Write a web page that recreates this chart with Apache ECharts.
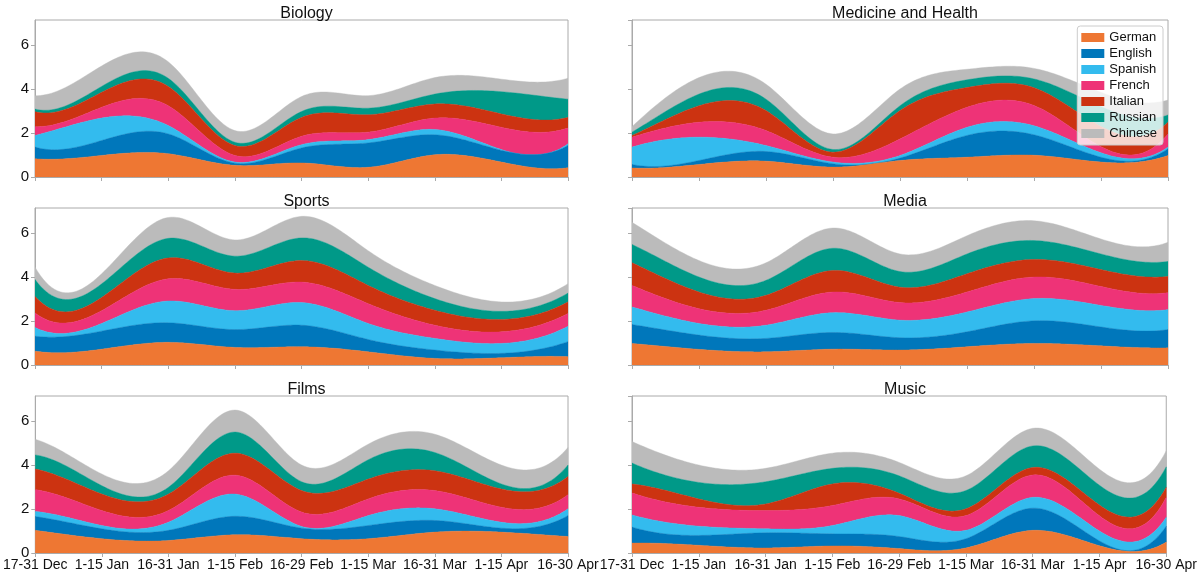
<!DOCTYPE html>
<html>
<head>
<meta charset="utf-8">
<script src="https://cdn.jsdelivr.net/npm/echarts@6/dist/echarts.min.js"></script>
<style>
html,body{margin:0;padding:0;background:#fff;}
#chart{width:1200px;height:572px;}
</style>
</head>
<body>
<div id="chart"></div>
<script>
const categories = ['17-31 Dec','1-15 Jan','16-31 Jan','1-15 Feb','16-29 Feb','1-15 Mar','16-31 Mar','1-15 Apr','16-30 Apr'];
const languages = ['German','English','Spanish','French','Italian','Russian','Chinese'];
const colors = ['#EE7733','#0077BB','#33BBEE','#EE3377','#CC3311','#009988','#BBBBBB'];
const panelTitles = ['Biology','Medicine and Health','Sports','Media','Films','Music'];
const yTicks = [0, 2, 4, 6];

// rows in language order: German, English, Spanish, French, Italian, Russian, Chinese
const biology = [
  [0.83, 0.98, 1.06, 0.53, 0.64, 0.44, 1.01, 0.68, 0.42],
  [0.53, 0.68, 0.90, 0.10, 0.68, 1.11, 0.91, 0.53, 1.01],
  [0.53, 1.02, 0.38, 0.05, 0.15, 0.15, 0.24, 0.04, 0.08],
  [0.40, 0.49, 0.90, 0.30, 0.38, 0.34, 0.52, 1.01, 0.72],
  [0.68, 0.68, 0.88, 0.45, 0.86, 0.79, 0.64, 0.61, 0.48],
  [0.12, 0.27, 0.37, 0.15, 0.27, 0.30, 0.45, 1.01, 0.83],
  [0.61, 0.93, 0.75, 0.53, 0.68, 0.57, 0.75, 0.57, 0.95]
];
const medicine = [
  [0.41, 0.57, 0.72, 0.45, 0.75, 0.90, 0.99, 0.68, 0.98],
  [0.16, 0.18, 0.44, 0.15, 0.11, 0.99, 0.93, 0.22, 0.30],
  [0.79, 1.06, 0.27, 0.08, 0.12, 0.37, 0.41, 0.20, 0.08],
  [0.45, 0.68, 0.68, 0.22, 0.75, 0.91, 0.92, 0.28, 0.60],
  [0.08, 0.75, 0.91, 0.23, 1.29, 0.90, 0.81, 0.92, 0.53],
  [0.15, 0.53, 0.52, 0.12, 0.22, 0.35, 0.40, 0.90, 0.33],
  [0.25, 0.75, 0.68, 0.71, 0.76, 0.48, 0.48, 0.65, 0.68]
];
const sports = [
  [0.63, 0.72, 1.03, 0.80, 0.83, 0.60, 0.30, 0.33, 0.38],
  [0.68, 0.82, 0.89, 0.81, 0.98, 0.56, 0.38, 0.20, 0.68],
  [0.40, 0.35, 0.99, 0.86, 1.03, 0.73, 0.53, 0.45, 0.70],
  [0.66, 0.58, 1.01, 0.97, 0.93, 0.90, 0.60, 0.53, 0.58],
  [0.75, 0.60, 0.95, 0.74, 0.98, 0.83, 0.68, 0.56, 0.53],
  [0.77, 0.62, 0.89, 0.77, 1.03, 0.83, 0.53, 0.37, 0.40],
  [0.56, 0.46, 0.95, 0.74, 0.98, 0.75, 0.60, 0.43, 0.43]
];
const media = [
  [0.98, 0.71, 0.60, 0.72, 0.68, 0.83, 0.98, 0.87, 0.78],
  [0.86, 0.65, 0.61, 0.76, 0.56, 0.68, 1.03, 0.86, 0.83],
  [0.80, 0.53, 0.60, 0.90, 0.80, 0.90, 1.01, 0.98, 0.91],
  [0.98, 0.67, 0.68, 0.94, 0.80, 0.91, 0.98, 0.86, 0.77],
  [1.03, 0.76, 0.68, 0.98, 0.70, 0.83, 0.80, 0.77, 0.74],
  [0.83, 0.68, 0.68, 1.01, 0.71, 0.90, 0.86, 0.71, 0.68],
  [1.01, 0.75, 0.80, 0.92, 0.80, 0.83, 0.90, 0.68, 0.87]
];
const films = [
  [1.03, 0.65, 0.57, 0.83, 0.65, 0.65, 0.95, 0.95, 0.75],
  [0.63, 0.45, 0.46, 0.84, 0.48, 0.60, 0.53, 0.18, 0.95],
  [0.23, 0.15, 0.37, 1.01, 0.08, 0.45, 0.53, 0.27, 0.31],
  [0.99, 0.68, 0.53, 0.86, 0.65, 0.76, 0.83, 0.68, 0.64],
  [0.94, 0.75, 0.75, 1.00, 0.98, 0.90, 0.90, 0.83, 0.83],
  [0.64, 0.38, 0.31, 0.96, 0.40, 0.88, 0.83, 0.23, 0.52],
  [0.71, 0.53, 0.75, 1.00, 0.76, 0.71, 0.83, 0.86, 0.80]
];
const music = [
  [0.45, 0.35, 0.23, 0.32, 0.20, 0.23, 1.03, 0.33, 0.50],
  [0.73, 0.45, 0.69, 0.55, 0.55, 0.42, 1.01, 0.22, 0.72],
  [0.55, 0.42, 0.18, 0.38, 0.95, 0.38, 0.49, 0.45, 0.41],
  [1.00, 0.86, 0.83, 0.91, 0.76, 0.67, 1.02, 0.69, 0.90],
  [0.41, 0.38, 0.30, 0.98, 0.26, 0.31, 0.34, 0.49, 0.46],
  [0.95, 0.75, 1.01, 0.71, 0.79, 0.83, 0.98, 0.90, 0.93],
  [0.98, 0.79, 0.61, 0.69, 0.61, 0.67, 0.80, 0.73, 0.73]
];
const panels = [biology, medicine, sports, media, films, music];

const FONT = '"Liberation Sans", Arial, Helvetica, sans-serif';
const lefts = [35, 632];
const widths = [533, 536];
const tops = [20, 208, 396];
const H = 157;
const YMAX = 7.14;
const SAMPLES = 24;

// cubic spline (not-a-knot), uniform spacing, returns second derivatives
function splineM(y) {
  const n = y.length;
  const A = [], b = [];
  for (let i = 0; i < n; i++) { A.push(new Array(n).fill(0)); b.push(0); }
  A[0][0] = 1; A[0][1] = -2; A[0][2] = 1;
  for (let i = 1; i < n - 1; i++) {
    A[i][i - 1] = 1; A[i][i] = 4; A[i][i + 1] = 1;
    b[i] = 6 * (y[i + 1] - 2 * y[i] + y[i - 1]);
  }
  A[n - 1][n - 3] = 1; A[n - 1][n - 2] = -2; A[n - 1][n - 1] = 1;
  for (let c = 0; c < n; c++) {
    let piv = c;
    for (let r = c + 1; r < n; r++) if (Math.abs(A[r][c]) > Math.abs(A[piv][c])) piv = r;
    [A[c], A[piv]] = [A[piv], A[c]]; [b[c], b[piv]] = [b[piv], b[c]];
    for (let r = c + 1; r < n; r++) {
      const f = A[r][c] / A[c][c];
      if (!f) continue;
      for (let k = c; k < n; k++) A[r][k] -= f * A[c][k];
      b[r] -= f * b[c];
    }
  }
  const M = new Array(n).fill(0);
  for (let r = n - 1; r >= 0; r--) {
    let s = b[r];
    for (let k = r + 1; k < n; k++) s -= A[r][k] * M[k];
    M[r] = s / A[r][r];
  }
  return M;
}
function splineAt(y, M, i, u) {
  const v = 1 - u;
  return v * y[i] + u * y[i + 1] + ((v * v * v - v) * M[i] + (u * u * u - u) * M[i + 1]) / 6;
}

function cumulative(panel, upto) {
  return categories.map((c, j) => {
    let s = 0;
    for (let k = 0; k <= upto; k++) s += panel[k][j];
    return s;
  });
}

const grids = [], xAxes = [], yAxes = [], titles = [], series = [];
panels.forEach((panel, p) => {
  const col = p % 2, row = Math.floor(p / 2);
  grids.push({left: lefts[col], top: tops[row], width: widths[col], height: H,
    show: true, borderColor: '#aaaaaa', borderWidth: 1, backgroundColor: 'transparent'});
  xAxes.push({type: 'category', gridIndex: p, data: categories, boundaryGap: false,
    axisLine: {show: true, lineStyle: {color: '#aaaaaa'}},
    axisTick: {show: true, length: 4, lineStyle: {color: '#aaaaaa'}},
    axisLabel: {show: row === 2, interval: 0, color: '#111', fontSize: 14, fontFamily: FONT, margin: 5},
    splitLine: {show: false}});
  yAxes.push({type: 'value', gridIndex: p, min: 0, max: YMAX, interval: 2,
    axisLine: {show: true, lineStyle: {color: '#aaaaaa'}},
    axisTick: {show: true, length: 4, lineStyle: {color: '#aaaaaa'}},
    axisLabel: {show: col === 0, color: '#111', fontSize: 15, fontFamily: FONT, margin: 6,
      showMaxLabel: false, formatter: v => (yTicks.indexOf(v) >= 0 ? String(v) : '')},
    splitLine: {show: false}});
  titles.push({text: panelTitles[p], left: lefts[col] + widths[col] / 2, top: tops[row] - 19,
    textAlign: 'center',
    textStyle: {fontSize: 16, fontWeight: 'normal', color: '#111', fontFamily: FONT}});

  // draw layers top-first (Chinese at back), each filled from its lower stack edge to its upper edge
  for (let i = languages.length - 1; i >= 0; i--) {
    const topVals = cumulative(panel, i);
    const botVals = i > 0 ? cumulative(panel, i - 1) : categories.map(() => 0);
    const Mt = splineM(topVals), Mb = splineM(botVals);
    series.push({
      name: languages[i], type: 'custom', xAxisIndex: p, yAxisIndex: p,
      itemStyle: {color: colors[i]}, clip: true, silent: true,
      data: [[0, topVals[0]]],
      renderItem: (params, api) => {
        const xs = categories.map((c, j) => api.coord([j, 0])[0]);
        const yPix = v => api.coord([0, v])[1];
        const upper = [], lower = [];
        for (let j = 0; j < categories.length - 1; j++) {
          for (let s = 0; s < SAMPLES; s++) {
            const u = s / SAMPLES;
            const x = xs[j] + (xs[j + 1] - xs[j]) * u;
            upper.push([x, yPix(splineAt(topVals, Mt, j, u))]);
            lower.push([x, yPix(splineAt(botVals, Mb, j, u))]);
          }
        }
        const last = categories.length - 1;
        upper.push([xs[last], yPix(topVals[last])]);
        lower.push([xs[last], yPix(botVals[last])]);
        const pts = upper.concat(lower.reverse());
        return {type: 'polygon', shape: {points: pts},
          style: {fill: colors[i], stroke: colors[i], lineWidth: 0.4}};
      }
    });
  }
});

const chart = echarts.init(document.getElementById('chart'), null, {renderer: 'canvas'});
chart.setOption({
  animation: false,
  color: colors,
  title: titles,
  grid: grids,
  xAxis: xAxes,
  yAxis: yAxes,
  legend: {data: languages, orient: 'vertical', right: 37, top: 26,
    itemWidth: 23, itemHeight: 9, itemGap: 3, icon: 'rect',
    backgroundColor: 'rgba(255,255,255,0.8)', borderColor: '#cccccc', borderWidth: 1, borderRadius: 3,
    padding: [5, 6, 5, 4],
    textStyle: {fontSize: 13, color: '#111', fontFamily: FONT}, selectedMode: false, z: 10},
  series: series
});
</script>
</body>
</html>
